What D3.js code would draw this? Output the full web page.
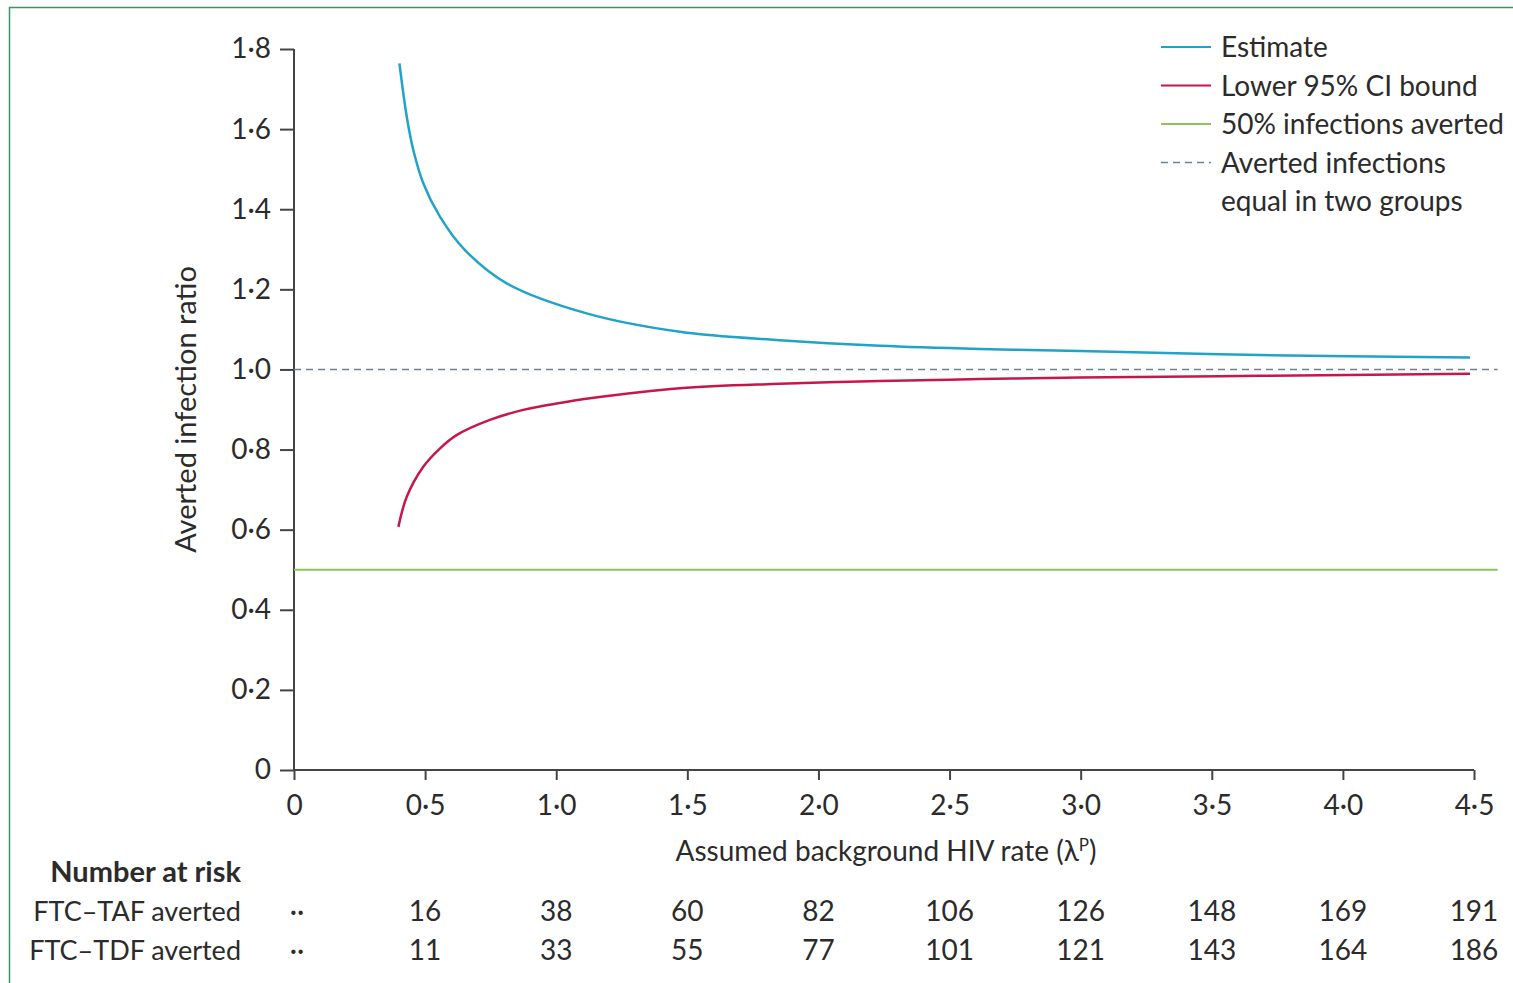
<!DOCTYPE html>
<html>
<head>
<meta charset="utf-8">
<script src="https://cdn.jsdelivr.net/npm/d3@7"></script>
<style>
  body { margin: 0; background: #fff; }
  svg { display: block; }
  text { font-family: Lato, "Noto Sans", sans-serif; fill: #2b2b2b; }
</style>
</head>
<body>
<div id="chart"></div>
<script>
// background rate (x) and averted infection ratio
var estimateX = [0.402, 0.43, 0.455, 0.493, 0.557, 0.652, 0.811, 1.116, 1.472, 1.853, 2.235, 2.616, 2.997, 3.684, 4.485];
var estimateY = [1.764, 1.631, 1.548, 1.465, 1.381, 1.298, 1.215, 1.140, 1.094, 1.073, 1.059, 1.051, 1.046, 1.036, 1.030];
var lowerX = [0.398, 0.43, 0.493, 0.557, 0.62, 0.747, 0.874, 1.002, 1.129, 1.472, 1.853, 2.235, 2.616, 2.997, 3.684, 4.485];
var lowerY = [0.607, 0.682, 0.757, 0.803, 0.836, 0.874, 0.899, 0.915, 0.928, 0.953, 0.964, 0.971, 0.976, 0.980, 0.984, 0.989];
var refEqual = 1.0;
var refHalf = 0.5;
var refLineEnd = 4.59;

var xTicks = [0, 0.5, 1, 1.5, 2, 2.5, 3, 3.5, 4, 4.5];
var yTicks = [0, 0.2, 0.4, 0.6, 0.8, 1.0, 1.2, 1.4, 1.6, 1.8];

var riskGroups = ["FTC\u2013TAF averted", "FTC\u2013TDF averted"];
var riskTAF = [null, 16, 38, 60, 82, 106, 126, 148, 169, 191];
var riskTDF = [null, 11, 33, 55, 77, 101, 121, 143, 164, 186];

var legendLabels = ["Estimate", "Lower 95% CI bound", "50% infections averted", "Averted infections"];

var width = 1513, height = 983;
var colors = { estimate: "#1fa3c9", lower: "#c6174b", half: "#8cc35a", equal: "#6e828e", axis: "#444", frame: "#3f9466" };
var fontSize = 28;

var svg = d3.select("#chart").append("svg")
  .attr("width", width)
  .attr("height", height);

// figure frame (top and left edges visible)
svg.append("path")
  .attr("d", "M9.5," + height + "V7.5H" + width)
  .attr("fill", "none")
  .attr("stroke", colors.frame)
  .attr("stroke-width", 1.5);

var x = d3.scaleLinear().domain([0, 4.5]).range([294, 1474]);
var y = d3.scaleLinear().domain([0, 1.8]).range([770, 49]);

function fmt(v) {
  return v === 0 ? "0" : d3.format(".1f")(v).replace(".", "\u00b7");
}

// axes
var yAxis = svg.append("g")
  .attr("transform", "translate(" + x(0) + ",0)")
  .call(d3.axisLeft(y).tickValues(yTicks).tickFormat(fmt).tickSize(14).tickPadding(9));
var xAxis = svg.append("g")
  .attr("transform", "translate(0," + y(0) + ")")
  .call(d3.axisBottom(x).tickValues(xTicks).tickFormat(fmt).tickSize(10).tickPadding(15));

[xAxis, yAxis].forEach(function (ax) {
  ax.select(".domain").attr("stroke", colors.axis).attr("stroke-width", 2);
  ax.selectAll(".tick line").attr("stroke", colors.axis).attr("stroke-width", 2);
  ax.selectAll(".tick text").attr("font-size", fontSize).attr("font-family", "Lato").attr("fill", "#2b2b2b");
});
yAxis.select(".domain").attr("d", "M0," + y(1.8) + "V" + y(0));
xAxis.select(".domain").attr("d", "M" + x(0) + ",0H" + x(4.5));

// reference lines
svg.append("line")
  .attr("x1", x(0)).attr("x2", x(refLineEnd))
  .attr("y1", y(refHalf)).attr("y2", y(refHalf))
  .attr("stroke", colors.half).attr("stroke-width", 2);
svg.append("line")
  .attr("x1", x(0)).attr("x2", x(refLineEnd))
  .attr("y1", y(refEqual)).attr("y2", y(refEqual))
  .attr("stroke", colors.equal).attr("stroke-width", 1.5)
  .attr("stroke-dasharray", "7,5");

// curves
var line = d3.line()
  .x(function (d) { return x(d[0]); })
  .y(function (d) { return y(d[1]); })
  .curve(d3.curveCatmullRom.alpha(0.5));

svg.append("path")
  .datum(d3.zip(estimateX, estimateY))
  .attr("d", line)
  .attr("fill", "none")
  .attr("stroke", colors.estimate)
  .attr("stroke-width", 2.5);
svg.append("path")
  .datum(d3.zip(lowerX, lowerY))
  .attr("d", line)
  .attr("fill", "none")
  .attr("stroke", colors.lower)
  .attr("stroke-width", 2.5);

// axis titles
svg.append("text")
  .attr("transform", "translate(196," + y(0.9) + ") rotate(-90)")
  .attr("text-anchor", "middle")
  .attr("font-size", 29)
  .text("Averted infection ratio");

var xTitle = svg.append("text")
  .attr("x", 886).attr("y", 861)
  .attr("text-anchor", "middle")
  .attr("font-size", fontSize)
  .text("Assumed background HIV rate (\u03bb");
xTitle.append("tspan").attr("dy", -10).attr("font-size", 17).text("P");
xTitle.append("tspan").attr("dy", 10).text(")");

// legend
var legendStyles = [
  { color: colors.estimate, dash: null },
  { color: colors.lower, dash: null },
  { color: colors.half, dash: null },
  { color: colors.equal, dash: "7,5" }
];
var legend = svg.append("g").attr("transform", "translate(1161,47)");
var item = legend.selectAll("g")
  .data(legendLabels)
  .enter()
  .append("g")
  .attr("transform", function (d, i) { return "translate(0," + (i * 38.5) + ")"; });
item.append("line")
  .attr("x1", 0).attr("x2", 50)
  .attr("stroke", function (d, i) { return legendStyles[i].color; })
  .attr("stroke-width", function (d, i) { return i === 3 ? 1.5 : 2; })
  .attr("stroke-dasharray", function (d, i) { return legendStyles[i].dash; });
item.append("text")
  .attr("x", 60).attr("y", 10)
  .attr("font-size", fontSize)
  .text(function (d) { return d; });
legend.append("text")
  .attr("x", 60).attr("y", 4 * 38.5 + 10)
  .attr("font-size", fontSize)
  .text("equal in two groups");

// number at risk table
svg.append("text")
  .attr("x", 241).attr("y", 882)
  .attr("text-anchor", "end")
  .attr("font-size", 29)
  .attr("font-weight", "bold")
  .text("Number at risk");

var rows = [riskTAF, riskTDF];
rows.forEach(function (row, r) {
  var ry = 921 + r * 39;
  svg.append("text")
    .attr("x", 241).attr("y", ry)
    .attr("text-anchor", "end")
    .attr("font-size", 27)
    .text(riskGroups[r]);
  svg.selectAll(null)
    .data(row)
    .enter()
    .append("text")
    .attr("x", function (d, i) { return i === 0 ? 297 : x(xTicks[i]); })
    .attr("y", ry)
    .attr("text-anchor", "middle")
    .attr("font-size", fontSize)
    .text(function (d) { return d === null ? "\u00b7\u00b7" : d; });
});
</script>
</body>
</html>
